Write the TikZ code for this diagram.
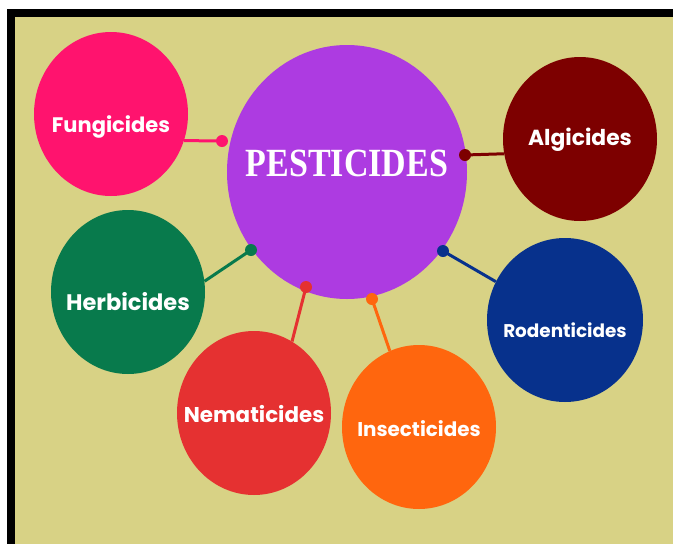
\documentclass[tikz,border=0pt]{standalone}
\usepackage{fontspec}
\setmainfont{Liberation Serif}
\newfontfamily\labelfont{Poppins}
\usetikzlibrary{shapes.geometric}

\definecolor{bgkhaki}{HTML}{D8D285}
\definecolor{pestpurple}{HTML}{AD3BE1}
\definecolor{pinkc}{HTML}{FF136E}
\definecolor{maroonc}{HTML}{7D0000}
\definecolor{greenc}{HTML}{087A4C}
\definecolor{navyc}{HTML}{07318C}
\definecolor{redc}{HTML}{E53131}
\definecolor{orangec}{HTML}{FF660E}

\tikzset{
    hub/.style    = {ellipse, fill=pestpurple, minimum width=240pt, minimum height=254pt, inner sep=0pt},
    branch/.style = {ellipse, fill=#1, minimum width=154pt, minimum height=164pt, inner sep=0pt},
    tag/.style    = {text=white, inner sep=0pt, font=\labelfont\bfseries\fontsize{#1}{24}\selectfont},
    tag/.default  = 21,
    bigtag/.style = {text=white, inner sep=0pt, font=\bfseries\fontsize{40}{44}\selectfont},
    link/.style   = {line width=3pt, draw=#1}
}

\begin{document}
\begin{tikzpicture}[x=1pt, y=-1pt]
    \useasboundingbox (0,0) rectangle (673,544);

    % --- Frame and background ---
    \fill[white] (0,0) rectangle (673,544);
    \fill[black] (7,9) rectangle (673,544);
    \fill[bgkhaki] (15,17) rectangle (673,544);

    % --- Centre ---
    \node[hub, label={[bigtag, yshift=9pt]center:\scalebox{0.85}[1]{PESTICIDES}}] (pest) at (347,172) {};

    % --- Branches ---
    \node[branch=pinkc, label={[tag, yshift=-13pt]center:Fungicides}] (fung) at (111,114) {};
    \node[branch=maroonc, label={[tag=21.8, yshift=-1pt]center:Algicides}] (algi) at (580,139) {};
    \node[branch=greenc, label={[tag=22.5, yshift=-10pt]center:Herbicides}] (herb) at (128,292) {};
    \node[branch=navyc, minimum width=156pt, label={[tag=18.4, yshift=-10pt]center:Rodenticides}] (rode) at (565,320) {};
    \node[branch=redc, label={[tag=21.4, yshift=-1pt]center:Nematicides}] (nema) at (254,413) {};
    \node[branch=orangec, label={[tag=19.9, yshift=-2pt]center:Insecticides}] (inse) at (419,427) {};

    % --- Knob points on the centre ---
    \coordinate (kfung) at (222,141);
    \coordinate (kalgi) at (465,155);
    \coordinate (kherb) at (251,250);
    \coordinate (krode) at (443,251);
    \coordinate (knema) at (306,287);
    \coordinate (kinse) at (372,299);

    % --- Links ---
    \draw[link=pinkc] (kfung) -- (fung.-20);
    \draw[link=maroonc] (kalgi) -- (algi.191);
    \draw[link=greenc] (kherb) -- (herb.8);
    \draw[link=navyc] (krode) -- (rode.151);
    \draw[link=redc] (knema) -- (nema.62);
    \draw[link=orangec] (kinse) -- (inse.111);

    % --- Knobs ---
    \foreach \k/\c in {kfung/pinkc, kalgi/maroonc, kherb/greenc, krode/navyc, knema/redc, kinse/orangec}
        \fill[\c] (\k) circle (6pt);
\end{tikzpicture}
\end{document}
